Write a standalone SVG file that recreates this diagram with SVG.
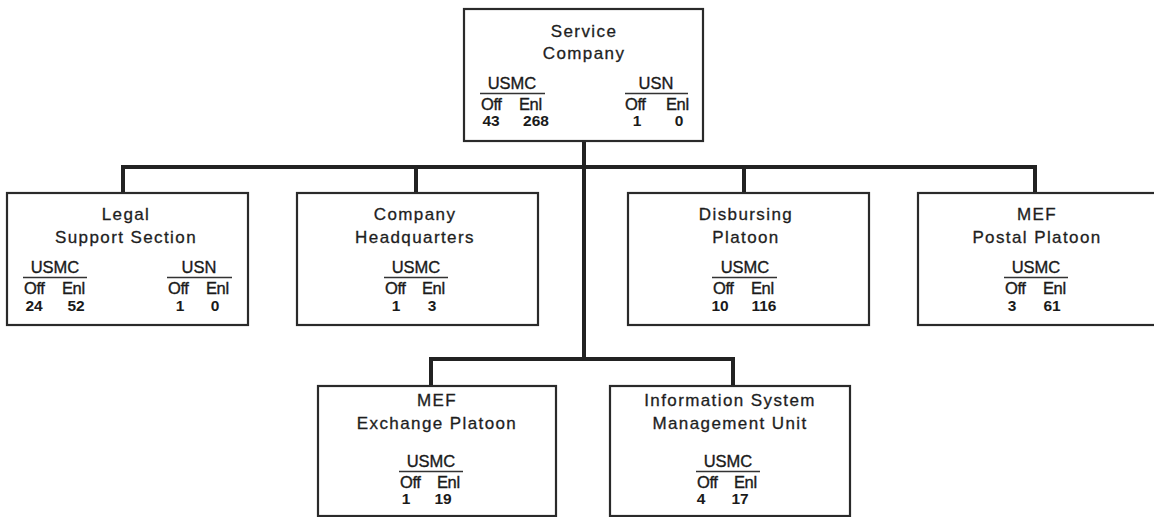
<svg xmlns="http://www.w3.org/2000/svg" width="1154" height="517" viewBox="0 0 1154 517">
<style>
.box{fill:#fff;stroke:#2a2a2a;stroke-width:2.2}
.conn{fill:none;stroke:#222;stroke-width:4}
.ttl{font-family:"Liberation Sans",Arial,sans-serif;font-size:17px;letter-spacing:1.4px;fill:#1e1e1e;stroke:#1e1e1e;stroke-width:0.3;text-anchor:middle}
.hd{font-family:"Liberation Sans",Arial,sans-serif;font-size:16.5px;fill:#1a1a1a;stroke:#1a1a1a;stroke-width:0.35;text-anchor:middle}
.ol{font-family:"Liberation Sans",Arial,sans-serif;font-size:16.5px;fill:#1a1a1a;stroke:#1a1a1a;stroke-width:0.35;letter-spacing:-0.4px}
.num{font-family:"Liberation Sans",Arial,sans-serif;font-size:15.5px;fill:#1a1a1a;text-anchor:middle;font-weight:bold}
.ul{stroke:#333;stroke-width:1.5}
</style>
<rect width="1154" height="517" fill="#fff"/>
<g id="connectors">
<path class="conn" d="M584 141 V359"/>
<path class="conn" d="M123 193 V167 H1035 V193"/>
<path class="conn" d="M416 167 V193"/>
<path class="conn" d="M744 167 V193"/>
<path class="conn" d="M431 386 V359 H733 V386"/>
</g>
<g id="service-company">
<rect class="box" x="464" y="9" width="239" height="132"/>
<text class="ttl" x="584" y="37">Service</text>
<text class="ttl" x="584" y="59">Company</text>
<text class="hd" x="512" y="89">USMC</text>
<line class="ul" x1="480" y1="93.5" x2="545" y2="93.5"/>
<text class="ol" x="481" y="110">Off</text>
<text class="ol" x="519" y="110">Enl</text>
<text class="num" x="491" y="126">43</text>
<text class="num" x="536" y="126">268</text>
<text class="hd" x="656" y="89">USN</text>
<line class="ul" x1="625" y1="93.5" x2="688" y2="93.5"/>
<text class="ol" x="625" y="110">Off</text>
<text class="ol" x="666" y="110">Enl</text>
<text class="num" x="637" y="126">1</text>
<text class="num" x="679" y="126">0</text>
</g>
<g id="legal-support-section">
<rect class="box" x="7" y="193" width="241" height="132"/>
<text class="ttl" x="126" y="220">Legal</text>
<text class="ttl" x="126" y="243">Support Section</text>
<text class="hd" x="55" y="273">USMC</text>
<line class="ul" x1="23" y1="277.5" x2="87" y2="277.5"/>
<text class="ol" x="24" y="294">Off</text>
<text class="ol" x="62" y="294">Enl</text>
<text class="num" x="34" y="311">24</text>
<text class="num" x="76" y="311">52</text>
<text class="hd" x="199" y="273">USN</text>
<line class="ul" x1="167" y1="277.5" x2="232" y2="277.5"/>
<text class="ol" x="168" y="294">Off</text>
<text class="ol" x="206" y="294">Enl</text>
<text class="num" x="180" y="311">1</text>
<text class="num" x="215" y="311">0</text>
</g>
<g id="company-headquarters">
<rect class="box" x="297" y="193" width="241" height="132"/>
<text class="ttl" x="415" y="220">Company</text>
<text class="ttl" x="415" y="243">Headquarters</text>
<text class="hd" x="416" y="273">USMC</text>
<line class="ul" x1="384" y1="277.5" x2="448" y2="277.5"/>
<text class="ol" x="385" y="294">Off</text>
<text class="ol" x="422" y="294">Enl</text>
<text class="num" x="396" y="311">1</text>
<text class="num" x="432" y="311">3</text>
</g>
<g id="disbursing-platoon">
<rect class="box" x="628" y="193" width="241" height="132"/>
<text class="ttl" x="746" y="220">Disbursing</text>
<text class="ttl" x="746" y="243">Platoon</text>
<text class="hd" x="745" y="273">USMC</text>
<line class="ul" x1="712" y1="277.5" x2="777" y2="277.5"/>
<text class="ol" x="713" y="294">Off</text>
<text class="ol" x="751" y="294">Enl</text>
<text class="num" x="720" y="311">10</text>
<text class="num" x="764" y="311">116</text>
</g>
<g id="mef-postal-platoon">
<rect class="box" x="918" y="193" width="241" height="132"/>
<text class="ttl" x="1037" y="220">MEF</text>
<text class="ttl" x="1037" y="243">Postal Platoon</text>
<text class="hd" x="1036" y="273">USMC</text>
<line class="ul" x1="1004" y1="277.5" x2="1068" y2="277.5"/>
<text class="ol" x="1005" y="294">Off</text>
<text class="ol" x="1043" y="294">Enl</text>
<text class="num" x="1012" y="311">3</text>
<text class="num" x="1052" y="311">61</text>
</g>
<g id="mef-exchange-platoon">
<rect class="box" x="318" y="386" width="238" height="130"/>
<text class="ttl" x="437" y="406">MEF</text>
<text class="ttl" x="437" y="429">Exchange Platoon</text>
<text class="hd" x="431" y="467">USMC</text>
<line class="ul" x1="399" y1="471.5" x2="463" y2="471.5"/>
<text class="ol" x="400" y="488">Off</text>
<text class="ol" x="437" y="488">Enl</text>
<text class="num" x="406" y="504">1</text>
<text class="num" x="443" y="504">19</text>
</g>
<g id="information-system-management-unit">
<rect class="box" x="610" y="386" width="240" height="130"/>
<text class="ttl" x="730" y="406">Information System</text>
<text class="ttl" x="730" y="429">Management Unit</text>
<text class="hd" x="728" y="467">USMC</text>
<line class="ul" x1="696" y1="471.5" x2="760" y2="471.5"/>
<text class="ol" x="697" y="488">Off</text>
<text class="ol" x="734" y="488">Enl</text>
<text class="num" x="701" y="504">4</text>
<text class="num" x="740" y="504">17</text>
</g>
</svg>
